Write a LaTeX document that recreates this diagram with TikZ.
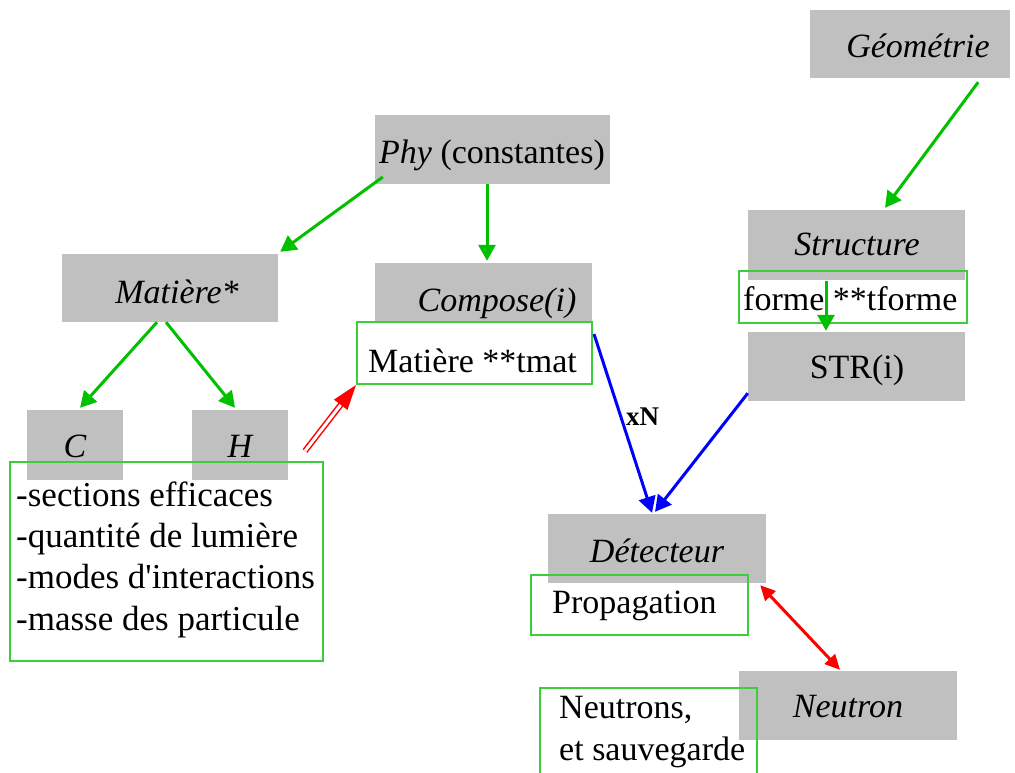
\documentclass[tikz,border=0pt]{standalone}
\usepackage{fontspec}
\setmainfont{Liberation Serif}
\usetikzlibrary{arrows.meta,calc}
\definecolor{boxgray}{RGB}{192,192,192}
\definecolor{arrgreen}{RGB}{0,192,0}
\definecolor{boxgreen}{RGB}{60,204,60}
\begin{document}
\begin{tikzpicture}[x=1pt,y=-1pt,
  graybox/.style={fill=boxgray, draw=none, inner sep=0pt},
  gbox/.style={draw=boxgreen, line width=2pt, inner sep=0pt},
  txt/.style={font=\fontsize{34}{41.3}\selectfont, inner sep=0pt, anchor=base west, align=left},
  ctxt/.style={font=\fontsize{34}{41.3}\selectfont\itshape, inner sep=0pt, anchor=base},
  garrow/.style={draw=arrgreen, line width=3pt, -{Triangle[length=16pt,width=17pt]}},
  barrow/.style={draw=blue, line width=3pt, -{Triangle[length=16pt,width=17pt]}},
  rarrow/.style={draw=red, line width=3pt, {Triangle[length=15pt,width=14pt]}-{Triangle[length=15pt,width=14pt]}},
  dblline/.style={draw=red, double=white, line width=1.5pt, double distance=3pt}]
\useasboundingbox (0,0) rectangle (1015,772);
% gray boxes
\node[graybox, minimum width=200pt, minimum height=68pt] (geo) at (910,44) {};
\node[graybox, minimum width=235pt, minimum height=69pt] (phy) at (492.5,149.5) {};
\node[graybox, minimum width=216pt, minimum height=68pt] (mat) at (170,288) {};
\node[graybox, minimum width=217pt, minimum height=59pt] (comp) at (483.5,292.5) {};
\node[graybox, minimum width=217pt, minimum height=70pt] (struct) at (856.5,245) {};
\node[graybox, minimum width=217pt, minimum height=69pt] (str) at (856.5,366.5) {};
\node[graybox, minimum width=96pt, minimum height=70pt] (c) at (75,445) {};
\node[graybox, minimum width=96pt, minimum height=70pt] (h) at (240,445) {};
\node[graybox, minimum width=218pt, minimum height=69pt] (det) at (657,548.5) {};
\node[graybox, minimum width=218pt, minimum height=69pt] (neu) at (848,705.5) {};
% white highlight
\node[fill=white, inner sep=0pt, minimum width=226pt, minimum height=42pt] (hl) at (853,302) {};
% green boxes
\node[gbox, minimum width=313pt, minimum height=199pt] (props) at (166.5,561.5) {};
\node[gbox, minimum width=235pt, minimum height=62pt] (tmat) at (474.5,353) {};
\node[gbox, minimum width=228pt, minimum height=52pt] (forme) at (853,297) {};
\node[gbox, minimum width=217pt, minimum height=60pt] (prop) at (639.5,605) {};
\node[gbox, minimum width=217pt, minimum height=86pt] (neus) at (648.5,731) {};
% texts
\node[ctxt] (tgeo) at (918,57) {Géométrie};
\node[ctxt] (tphy) at (492,163) {Phy \upshape(constantes)};
\node[ctxt] (tmatt) at (177,303) {Matière*};
\node[ctxt] (tcomp) at (497,311) {Compose(i)};
\node[ctxt] (tstruct) at (857,255) {Structure};
\node[ctxt, font=\fontsize{34}{41.3}\selectfont] (tstr) at (857,378) {STR(i)};
\node[ctxt] (tc) at (75,457) {C};
\node[ctxt] (th) at (240,457) {H};
\node[ctxt] (tdet) at (657,562) {Détecteur};
\node[ctxt] (tneu) at (848,717) {Neutron};
\node[txt, font=\fontsize{35}{41.3}\selectfont] (tprops) at (16,630) {-sections efficaces\\-quantité de lumière\\-modes d\textquotesingle interactions\\-masse des particule};
\node[txt] (ttmat) at (368,372) {Matière **tmat};
\node[txt] (tforme) at (743,310) {forme **tforme};
\node[txt] (tprop) at (552,613) {Propagation};
\node[txt] (tneus) at (559,760) {Neutrons,\\et sauvegarde};
% connectors
\draw[garrow] ([xshift=-32pt,yshift=-4pt]geo.south east) -- ([xshift=28.5pt,yshift=2pt]struct.north);
\draw[garrow] ([xshift=8pt,yshift=-27.5pt]phy.west) -- ([xshift=2pt,yshift=2pt]mat.north east);
\draw[garrow] ([xshift=-5.5pt]phy.south) -- ([xshift=3.5pt,yshift=2pt]comp.north);
\draw[garrow] ([xshift=-13pt]mat.south) -- ([xshift=5pt,yshift=2pt]c.north);
\draw[garrow] ([xshift=-4pt]mat.south) -- ([xshift=-5pt,yshift=2pt]h.north);
\draw[garrow] ([xshift=-30.5pt,yshift=-1pt]struct.south) -- ([xshift=-30.5pt,yshift=1pt]str.north);
% red double arrow
\coordinate (dA) at ([xshift=-19pt,yshift=10pt]props.north east);
\coordinate (dB) at (tmat.south west);
\coordinate (dM) at ($(dB)!25pt!(dA)$);
\draw[dblline] (dA) -- ($(dB)!21pt!(dA)$);
\fill[red] (dB) -- ($(dM)!8.5pt!90:(dB)$) -- ($(dM)!8.5pt!-90:(dB)$) -- cycle;
\draw[barrow] ([xshift=1pt,yshift=-13pt]tmat.north east) -- node[pos=0.46, anchor=west, inner sep=4pt, font=\fontsize{27}{30}\selectfont\bfseries] (xn) {xN} ([xshift=-5pt,yshift=1pt]det.north);
\draw[barrow] ([yshift=8pt]str.south west) -- ([xshift=-2pt,yshift=2pt]det.north);
\draw[rarrow] ([xshift=-6pt,yshift=-2pt]det.south east) -- ([xshift=-8pt,yshift=1pt]neu.north);
\end{tikzpicture}
\end{document}
